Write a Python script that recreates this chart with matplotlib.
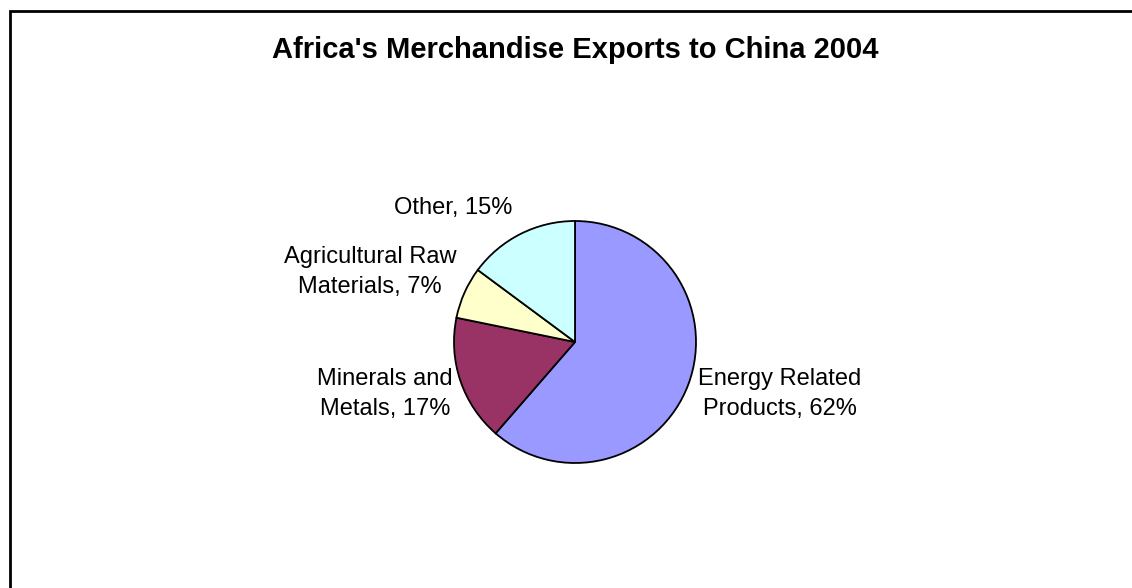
import matplotlib
matplotlib.use("Agg")
import matplotlib.pyplot as plt
from matplotlib.patches import Rectangle

plt.rcParams['font.family'] = ['Liberation Sans', 'DejaVu Sans']

# data
categories = ['Energy Related\nProducts', 'Minerals and\nMetals',
              'Agricultural Raw\nMaterials', 'Other']
shares = [62, 17, 7, 15]
colors = ['#9999FF', '#993366', '#FFFFCC', '#CCFFFF']
title = "Africa's Merchandise Exports to China 2004"

W, H = 1132, 588
fig = plt.figure(figsize=(W / 100, H / 100), dpi=100)
ax = fig.add_axes([0, 0, 1, 1])

# pie, pixel space with y up
cx, cy, r = 575, H - 342, 121
ax.pie(shares, colors=colors, startangle=90, counterclock=False,
       center=(cx, cy), radius=r, frame=True,
       wedgeprops=dict(edgecolor='black', linewidth=1.3))
ax.set_xlim(0, W)
ax.set_ylim(0, H)
ax.set_aspect('equal')
ax.axis('off')

# label positions (pixel, from top)
label_pos = [(780, 394), (385, 394), (370, 272), (453, 208)]
for cat, s, (lx, ly) in zip(categories, shares, label_pos):
    ax.text(lx, H - ly, f'{cat}, {s}%', ha='center', va='center',
            fontsize=17, linespacing=1.45, multialignment='center')

ax.text(575, H - 50, title, ha='center', va='center', fontsize=21,
        fontweight='bold')

# chart border (top and left visible)
ax.add_patch(Rectangle((10, -20), W + 40, H + 20 - 11, fill=False,
                       edgecolor='black', linewidth=2, clip_on=False))

fig.savefig('out.png', dpi=100)
